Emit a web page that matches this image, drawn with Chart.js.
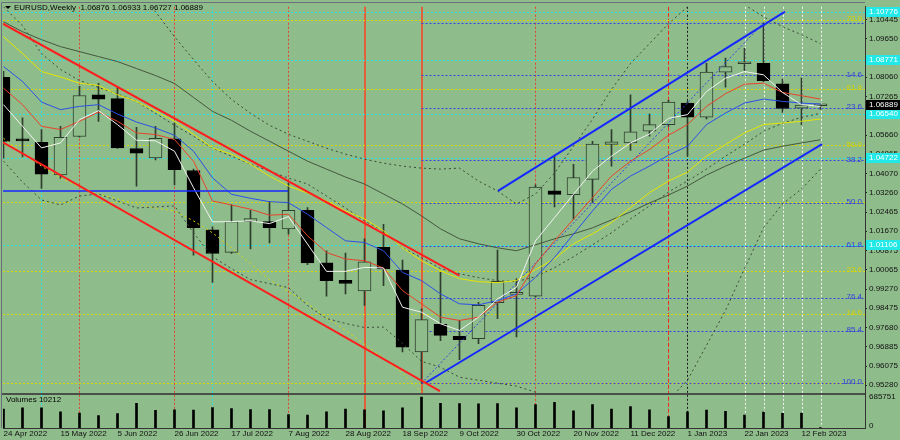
<!DOCTYPE html>
<html>
<head>
<meta charset="utf-8">
<script src="https://cdn.jsdelivr.net/npm/chart.js@4.4.1/dist/chart.umd.min.js"></script>
<style>
  html, body { margin: 0; padding: 0; background: #8fbc8b; }
  #wrap { position: relative; width: 900px; height: 440px; }
</style>
</head>
<body>
<div id="wrap"><canvas id="mychart" width="900" height="440"></canvas></div>
<script>
/* [ Data ] */
const dateLabels = ['24 Apr 2022', '15 May 2022', '5 Jun 2022', '26 Jun 2022', '17 Jul 2022', '7 Aug 2022', '28 Aug 2022',
  '18 Sep 2022', '9 Oct 2022', '30 Oct 2022', '20 Nov 2022', '11 Dec 2022', '1 Jan 2023', '22 Jan 2023', '12 Feb 2023'];

const priceTicks = [1.10445, 1.09650, 1.08855, 1.08060, 1.07265, 1.06470, 1.05660, 1.04865, 1.04070, 1.03260, 1.02465,
  1.01670, 1.00875, 1.00065, 0.99270, 0.98475, 0.97680, 0.96885, 0.96075, 0.95280];

const opens = [1.0806, 1.0550, 1.0536, 1.0401, 1.0560, 1.0733, 1.0717, 1.0510, 1.0471, 1.0550, 1.0419, 1.0173, 1.0079, 1.0207,
  1.0207, 1.0176, 1.0254, 1.0036, 0.9963, 0.9919, 1.0100, 1.0006, 0.9666, 0.9780, 0.9731, 0.9721, 0.9870, 0.9905, 0.9897,
  1.0334, 1.0319, 1.0382, 1.0527, 1.0533, 1.0582, 1.0609, 1.0699, 1.0640, 1.0827, 1.0862, 1.0864, 1.0779, 1.0678, 1.06876];
const highs = [1.0830, 1.0637, 1.0589, 1.0602, 1.0768, 1.0781, 1.0768, 1.0598, 1.0602, 1.0616, 1.0425, 1.0185, 1.0276, 1.0254,
  1.0290, 1.0368, 1.0265, 1.0086, 1.0076, 1.0135, 1.0196, 1.0047, 0.9845, 0.9996, 0.9797, 0.9872, 1.0089, 0.9969, 1.0359,
  1.0478, 1.0444, 1.0540, 1.0589, 1.0733, 1.0653, 1.0710, 1.0706, 1.0864, 1.0885, 1.0926, 1.1032, 1.0798, 1.0802, 1.06933];
const lows = [1.0470, 1.0475, 1.0345, 1.0386, 1.0557, 1.0623, 1.0510, 1.0354, 1.0463, 1.0359, 1.0068, 0.9954, 1.0075, 1.0093,
  1.0118, 1.0155, 1.0028, 0.9897, 0.9907, 0.9859, 0.9941, 0.9666, 0.9536, 0.9713, 0.9634, 0.9700, 0.9804, 0.9728, 0.9893,
  1.0268, 1.0217, 1.0285, 1.0437, 1.0502, 1.0561, 1.0602, 1.0478, 1.0633, 1.0765, 1.0834, 1.0788, 1.0660, 1.0609, 1.06727];
const closes = [1.0540, 1.0542, 1.0404, 1.0557, 1.0730, 1.0715, 1.0513, 1.0491, 1.0552, 1.0422, 1.0182, 1.0075, 1.0207, 1.0219,
  1.0182, 1.0254, 1.0035, 0.9962, 0.9950, 1.0040, 1.0010, 0.9686, 0.9800, 0.9735, 0.9717, 0.9859, 0.9959, 0.9912, 1.0350,
  1.0320, 1.0390, 1.0529, 1.0538, 1.0579, 1.0609, 1.0703, 1.0640, 1.0827, 1.0850, 1.0870, 1.0792, 1.0676, 1.0690, 1.06889];
const volumes = [418700, 447500, 447500, 360900, 332000, 274300, 317600, 548600, 389800, 404200, 397000, 454700, 433100, 411400,
  411400, 296000, 288700, 360900, 418700, 404200, 382600, 447500, 685751, 548600, 541400, 538900, 540600, 447500, 519700,
  570200, 382600, 519700, 418700, 476400, 404200, 252600, 360900, 397000, 368100, 288700, 353700, 324800, 332000, 10212];

// indicator lines
const maWhite = [1.06920, 1.06024, 1.05127, 1.05333, 1.06300, 1.06672, 1.06094, 1.05445, 1.05420, 1.04990, 1.03474, 1.02057,
  1.02069, 1.02098, 1.01986, 1.02276, 1.01135, 1.00003, 1.00003, 1.00168, 1.00143, 0.98515, 0.98309, 0.97829, 0.97552, 0.98102,
  0.98862, 0.99342, 1.01271, 1.02234, 1.03201, 1.04164, 1.04784, 1.05333, 1.05705, 1.06354, 1.06507, 1.07470, 1.08019, 1.08296,
  1.08160, 1.07428, 1.06920, 1.06850];
const maRed = [1.07606, 1.06920, 1.06024, 1.05887, 1.06230, 1.06614, 1.06230, 1.05747, 1.05681, 1.05474, 1.04577, 1.02924,
  1.02759, 1.02581, 1.02333, 1.02375, 1.01478, 1.00788, 1.00515, 1.00445, 1.00143, 0.99205, 0.98656, 0.98102, 0.97966, 0.98102,
  0.98722, 0.98999, 1.00309, 1.01271, 1.02168, 1.03061, 1.03957, 1.04577, 1.05061, 1.05652, 1.06094, 1.06850, 1.07375, 1.07771,
  1.07813, 1.07428, 1.07292, 1.07152];
const maBlue = [1.08503, 1.07883, 1.07028, 1.06714, 1.06850, 1.06920, 1.06532, 1.06201, 1.05953, 1.05652, 1.04990, 1.03887,
  1.03201, 1.03036, 1.02895, 1.02854, 1.02375, 1.01821, 1.01271, 1.01201, 1.00858, 0.99962, 0.99619, 0.99069, 0.98656, 0.98614,
  0.98792, 0.99069, 0.99755, 1.00581, 1.01548, 1.02511, 1.03408, 1.03957, 1.04371, 1.04825, 1.05197, 1.06094, 1.06573, 1.06986,
  1.07152, 1.07057, 1.06986, 1.06945];
const maYellow = [1.09743, 1.09040, 1.08296, 1.08069, 1.07813, 1.07718, 1.07333, 1.07057, 1.06643, 1.06230, 1.05693, 1.05127,
  1.04867, 1.04453, 1.03957, 1.03544, 1.03255, 1.02924, 1.02511, 1.02180, 1.01685, 1.00982, 1.00445, 1.00032, 0.99701, 0.99577,
  0.99536, 0.99619, 1.00073, 1.00528, 1.01147, 1.01561, 1.02028, 1.02648, 1.03267, 1.03751, 1.04123, 1.04784, 1.05267, 1.05747,
  1.06094, 1.06160, 1.06230, 1.06325];
const maSlow = [1.10362, 1.09949, 1.09619, 1.09329, 1.09123, 1.08916, 1.08710, 1.08420, 1.08131, 1.07800, 1.07222, 1.06643,
  1.06271, 1.05817, 1.05404, 1.04990, 1.04577, 1.04247, 1.03916, 1.03627, 1.03214, 1.02800, 1.02305, 1.01767, 1.01354, 1.01147,
  1.00982, 1.00858, 1.01106, 1.01354, 1.01561, 1.01809, 1.02139, 1.02470, 1.02842, 1.03172, 1.03544, 1.03999, 1.04371, 1.04701,
  1.05032, 1.05197, 1.05333, 1.05466];
const maDashed = [1.10982, 1.10197, 1.09040, 1.08379, 1.07924, 1.07635, 1.07367, 1.07057, 1.06561, 1.06065, 1.05610, 1.05114,
  1.04784, 1.04453, 1.04164, 1.03875, 1.03627, 1.03131, 1.02635, 1.02098, 1.01685, 1.00982, 1.00569, 1.00114, 0.99908, 0.99742,
  0.99619, 0.99577, 0.99784, 1.00156, 1.00610, 1.01106, 1.01602, 1.02180, 1.02718, 1.03296, 1.03751, 1.04247, 1.04784, 1.05280,
  1.05817, 1.06148, 1.06395, 1.06561];
const bandUp = [1.1165, 1.1230, 1.1290, 1.1310, 1.1320, 1.1300, 1.12635, 1.11685, 1.10776, 1.09743, 1.08792, 1.07883, 1.07139,
  1.06561, 1.06065, 1.05693, 1.05404, 1.05114, 1.04867, 1.04660, 1.04495, 1.04371, 1.04288, 1.04247, 1.04288, 1.03751, 1.03338,
  1.02800, 1.03214, 1.04081, 1.05197, 1.06313, 1.07552, 1.08627, 1.09453, 1.10280, 1.10982, 1.11519, 1.11519, 1.11065, 1.10569,
  1.10156, 1.09825, 1.09453];
const bandLow = [1.04577, 1.03710, 1.02966, 1.02759, 1.03131, 1.03214, 1.02924, 1.02635, 1.02676, 1.02718, 1.01602, 1.00610,
  1.00114, 0.99660, 0.99495, 0.99329, 0.98586, 0.98048, 0.97842, 0.97676, 0.97690, 0.97015, 0.96271, 0.96024, 0.95610, 0.95486,
  0.95362, 0.95238, 0.94991, 0.94660, 0.94495, 0.94412, 0.94371, 0.94412, 0.94495, 0.94660, 0.95486, 0.96933, 0.98379, 1.00114,
  1.01809, 1.02800, 1.03420, 1.04247];
const envYellow = [1.05528, 1.04908, 1.04371, 1.03875, 1.03503, 1.03214, 1.03007, 1.02800, 1.02635, 1.02511, 1.02098, 1.01602,
  1.00982, 1.00321, 0.99660, 0.99164, 0.98668, 0.98090, 0.97552, 0.96974, 0.96395, 0.95776, 0.94991];

// trend lines: [week index, price] pairs
const redUpper = [[-0.03, 1.1028], [24.0, 0.9983]];
const redLower = [[-0.03, 1.0536], [22.97, 0.9503]];
const blueUpper = [[26.03, 1.0334], [41.13, 1.1078]];
const blueLower = [[22.18, 0.9536], [43.08, 1.0528]];
const blueFlat = [[-0.03, 1.0334], [14.97, 1.0334]];
const fibDiag = [[22, 0.9536], [40, 1.1032]];

// fibo grids and levels
const fibHigh = 1.1032, fibLow = 0.9536, fibStart = 22;
const blueFibLevels = [0, 14.6, 23.6, 38.2, 50.0, 61.8, 76.4, 85.4, 100.0];
const yellowFibTop = 1.1510;
const yellowFibLevels = [0, 14.6, 23.6, 38.2, 50.0, 61.8, 76.4];
const yellowFibText = ['', '14.6', '23.6', '', '50.0', '61.8', '70.0'];
const cyanLevels = [1.10776, 1.08771, 1.06540, 1.04722, 1.01106];
const lastPrice = 1.06889;

// vertical markers (week index)
const cyanMarks = [2, 11];
const redDotMarks = [4, 9, 15, 28];
const redSolidMarks = [19, 22];
const redDashMarks = [35];
const blackDotMarks = [36];
const whiteDotMarks = [39, 40, 41, 42, 43];

/* [ Chart ] */
const BG = '#8fbc8b';
const WICK = '#2e3e2e';
const VOL_PANE = 34;
const paneClip = {left: 0, top: 0, right: 0, bottom: -VOL_PANE};
const FONT = '8px "Liberation Sans", Arial, sans-serif';

Chart.defaults.font.family = '"Liberation Sans", Arial, sans-serif';
Chart.defaults.font.size = 8;
Chart.defaults.color = '#111';

function pts(arr) {
  return arr.map((v, i) => ({x: i, y: v}));
}
function seg(arr) {
  return arr.map(p => ({x: p[0], y: p[1]}));
}
function lineSet(data, color, width, dash, order) {
  return {type: 'line', data: data, borderColor: color, borderWidth: width, borderDash: dash || [],
    pointRadius: 0, fill: false, tension: 0, clip: paneClip, order: order, yAxisID: 'y'};
}

function hline(ctx, x0, x1, py, color, dash) {
  ctx.beginPath();
  ctx.strokeStyle = color;
  ctx.lineWidth = 1;
  ctx.setLineDash(dash);
  py = Math.round(py) + 0.5;
  ctx.moveTo(x0, py);
  ctx.lineTo(x1, py);
  ctx.stroke();
}
function vline(ctx, px, top, bottom, color, dash, width) {
  ctx.beginPath();
  ctx.strokeStyle = color;
  ctx.lineWidth = width;
  ctx.setLineDash(dash);
  ctx.moveTo(px, top);
  ctx.lineTo(px, bottom);
  ctx.stroke();
}

const drawings = {
  id: 'drawings',
  beforeDraw(chart) {
    const ctx = chart.ctx;
    ctx.save();
    ctx.fillStyle = BG;
    ctx.fillRect(0, 0, chart.width, chart.height);
    ctx.restore();
  },
  beforeDatasetsDraw(chart) {
    const ctx = chart.ctx, a = chart.chartArea, x = chart.scales.x, y = chart.scales.y;
    const paneBottom = a.bottom - VOL_PANE;
    ctx.save();
    // vertical markers run through both panes
    cyanMarks.forEach(i => vline(ctx, x.getPixelForValue(i), a.top, a.bottom, '#22e4e4', [2, 2], 1));
    redDotMarks.forEach(i => vline(ctx, x.getPixelForValue(i), a.top, a.bottom, '#e8402a', [2, 2], 1));
    redSolidMarks.forEach(i => vline(ctx, x.getPixelForValue(i) + 0.5, a.top, i === 22 ? paneBottom : a.bottom, '#e0603c', [], 2));
    redDashMarks.forEach(i => vline(ctx, x.getPixelForValue(i), a.top, a.bottom, '#ee2a1a', [4, 2], 1));
    blackDotMarks.forEach(i => vline(ctx, x.getPixelForValue(i), a.top, a.bottom, '#1a1a1a', [2, 2], 1));
    whiteDotMarks.forEach(i => vline(ctx, x.getPixelForValue(i) + 1, a.top, a.bottom, '#f4f4f4', [2, 2], 1));

    ctx.beginPath();
    ctx.rect(a.left, a.top, a.right - a.left, paneBottom - a.top);
    ctx.clip();
    yellowFibLevels.forEach(l => {
      hline(ctx, a.left, a.right, y.getPixelForValue(fibLow + l / 100 * (yellowFibTop - fibLow)), '#d8d800', [2, 2]);
    });
    cyanLevels.forEach(v => hline(ctx, a.left, a.right, y.getPixelForValue(v), '#22e4e4', [2, 2]));
    const fx = x.getPixelForValue(fibStart);
    blueFibLevels.forEach(l => {
      hline(ctx, fx, a.right, y.getPixelForValue(fibHigh - l / 100 * (fibHigh - fibLow)), '#3444e4', [2, 2]);
    });
    ctx.restore();
  },
  afterDatasetsDraw(chart) {
    const ctx = chart.ctx, a = chart.chartArea, y = chart.scales.y;
    ctx.save();
    ctx.font = FONT;
    ctx.textAlign = 'right';
    ctx.textBaseline = 'middle';
    yellowFibLevels.forEach((l, k) => {
      if (!yellowFibText[k]) return;
      ctx.fillStyle = '#d4d400';
      ctx.fillText(yellowFibText[k], a.right - 3, y.getPixelForValue(fibLow + l / 100 * (yellowFibTop - fibLow)) - 1);
    });
    blueFibLevels.forEach(l => {
      if (l === 0) return;
      ctx.fillStyle = '#2f3fe0';
      ctx.fillText(l.toFixed(1), a.right - 3, y.getPixelForValue(fibHigh - l / 100 * (fibHigh - fibLow)) - 1);
    });
    ctx.restore();
  },
  afterDraw(chart) {
    const ctx = chart.ctx, a = chart.chartArea, y = chart.scales.y, yv = chart.scales.yv;
    const paneBottom = a.bottom - VOL_PANE;
    ctx.save();
    // pane separator and frame
    ctx.setLineDash([]);
    ctx.fillStyle = '#4a4f4a';
    ctx.fillRect(a.left - 1, paneBottom - 1, a.right - a.left + 1, 2);
    ctx.strokeStyle = '#6a6f7a';
    ctx.lineWidth = 1;
    ctx.beginPath();
    ctx.moveTo(1.5, a.bottom);
    ctx.lineTo(1.5, 2.5);
    ctx.lineTo(a.right, 2.5);
    ctx.stroke();

    ctx.font = FONT;
    ctx.textBaseline = 'middle';
    ctx.textAlign = 'left';
    // header
    ctx.fillStyle = '#000';
    ctx.beginPath();
    ctx.moveTo(5, 6); ctx.lineTo(11, 6); ctx.lineTo(8, 9); ctx.closePath();
    ctx.fill();
    ctx.fillText('EURUSD,Weekly  1.06876 1.06933 1.06727 1.06889', 14, 7.5);
    ctx.fillText('Volumes 10212', 6, paneBottom + 6);
    // volume scale labels
    ctx.fillStyle = '#111';
    ctx.fillText('685751', a.right + 4, yv.getPixelForValue(685751));
    ctx.fillText('0', a.right + 4, yv.getPixelForValue(0) - 2);
    // price boxes on the axis
    cyanLevels.forEach(v => {
      const py = Math.round(y.getPixelForValue(v));
      ctx.fillStyle = '#22e8e8';
      ctx.fillRect(a.right + 1, py - 5, chart.width - a.right - 1, 10);
      ctx.fillStyle = '#ffffff';
      ctx.fillText(v.toFixed(5), a.right + 4, py);
    });
    const lp = Math.round(y.getPixelForValue(lastPrice));
    ctx.fillStyle = '#000';
    ctx.fillRect(a.right + 1, lp - 5, chart.width - a.right - 1, 10);
    ctx.fillStyle = '#ffffff';
    ctx.fillText(lastPrice.toFixed(5), a.right + 4, lp);
    ctx.restore();
  }
};

const ctx1 = document.getElementById('mychart').getContext('2d');
let mychart = new Chart(ctx1, {
  type: 'bar',
  data: {
    datasets: [
      lineSet(seg(redUpper), '#ff1e1e', 2, [], 0),
      lineSet(seg(redLower), '#ff1e1e', 2, [], 0),
      lineSet(seg(blueUpper), '#1428ff', 2, [], 0),
      lineSet(seg(blueLower), '#1428ff', 2, [], 0),
      lineSet(seg(blueFlat), '#1428ff', 1.5, [], 0),
      lineSet(seg(fibDiag), '#3444e4', 1, [2, 2], 1),
      lineSet(pts(maWhite), '#f2f2f2', 1, [], 0),
      lineSet(pts(maRed), '#e8432c', 1, [], 0),
      lineSet(pts(maBlue), '#2a50e8', 1, [], 0),
      lineSet(pts(maYellow), '#e6e600', 1, [], 0),
      lineSet(pts(maSlow), '#45573f', 1, [], 0),
      lineSet(pts(maDashed), '#3c4a3c', 1, [2, 3], 1),
      lineSet(pts(bandUp), '#3c4a3c', 1, [2, 3], 1),
      lineSet(pts(bandLow), '#3c4a3c', 1, [2, 3], 1),
      lineSet(pts(envYellow), '#d8d800', 1, [2, 3], 1),
      {
        type: 'bar', yAxisID: 'y', order: 2, grouped: false, barThickness: 13, minBarLength: 2,
        data: opens.map((o, i) => ({x: i, y: [o, closes[i]]})),
        backgroundColor: c => closes[c.dataIndex] >= opens[c.dataIndex] ? BG : '#000',
        borderColor: c => closes[c.dataIndex] >= opens[c.dataIndex] ? WICK : '#000',
        borderWidth: 1, borderSkipped: false, clip: paneClip
      },
      {
        type: 'bar', yAxisID: 'y', order: 3, grouped: false, barThickness: 1,
        data: lows.map((l, i) => ({x: i, y: [l, highs[i]]})),
        backgroundColor: WICK, borderWidth: 0, clip: paneClip
      },
      {
        type: 'bar', yAxisID: 'yv', order: 4, grouped: false, barThickness: 2,
        data: volumes.map((v, i) => ({x: i, y: v})),
        backgroundColor: '#000', borderWidth: 0
      }
    ]
  },
  options: {
    responsive: false,
    animation: false,
    devicePixelRatio: 1,
    layout: {padding: {left: 3, top: 5, right: 0, bottom: 0}},
    plugins: {legend: {display: false}, tooltip: {enabled: false}},
    scales: {
      x: {
        type: 'linear', min: -0.5 / 19, max: 861.5 / 19, offset: false,
        grid: {display: false, drawTicks: false, offset: false},
        border: {display: true, color: '#333', width: 1},
        afterBuildTicks: s => { s.ticks = dateLabels.map((d, k) => ({value: 3 * k})); },
        afterFit: s => { s.height = 12; },
        ticks: {align: 'start', autoSkip: false, maxRotation: 0, padding: 1, color: '#111',
          callback: v => dateLabels[Math.round(v / 3)]}
      },
      y: {
        type: 'linear', position: 'right', min: 0.93503, max: 1.10982,
        grid: {display: true, drawOnChartArea: false, drawTicks: true, tickLength: 2, color: '#222'},
        border: {display: true, color: '#333', width: 1},
        afterBuildTicks: s => { s.ticks = priceTicks.map(v => ({value: v})); },
        afterFit: s => { s.width = 35; },
        ticks: {padding: 2, color: '#111', callback: v => v.toFixed(5)}
      },
      yv: {type: 'linear', display: false, min: 0, max: 9357150}
    }
  },
  plugins: [drawings]
});
</script>
</body>
</html>
